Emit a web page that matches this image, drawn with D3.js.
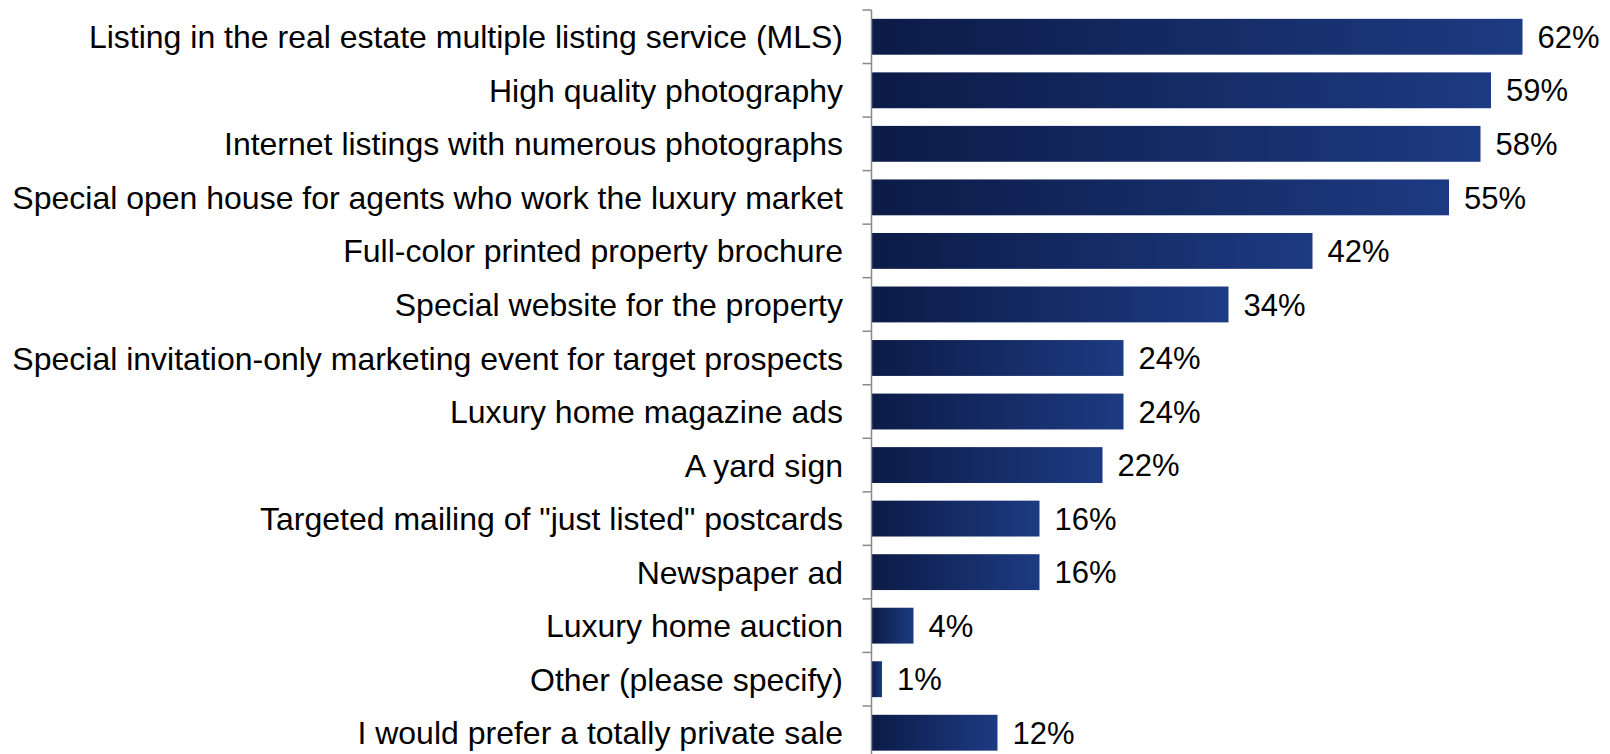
<!DOCTYPE html>
<html>
<head>
<meta charset="utf-8">
<script src="https://cdn.jsdelivr.net/npm/d3@7"></script>
<style>
  html, body { margin: 0; padding: 0; background: #fff; }
  svg { display: block; }
</style>
</head>
<body>
<svg id="chart" width="1610" height="754"></svg>
<script>
// Marketing methods used for luxury listings (share of respondents)
const categories = [
  "Listing in the real estate multiple listing service (MLS)",
  "High quality photography",
  "Internet listings with numerous photographs",
  "Special open house for agents who work the luxury market",
  "Full-color printed property brochure",
  "Special website for the property",
  "Special invitation-only marketing event for target prospects",
  "Luxury home magazine ads",
  "A yard sign",
  "Targeted mailing of \"just listed\" postcards",
  "Newspaper ad",
  "Luxury home auction",
  "Other (please specify)",
  "I would prefer a totally private sale"
];
const values = [62, 59, 58, 55, 42, 34, 24, 24, 22, 16, 16, 4, 1, 12];

const svg = d3.select("#chart");
const axisX = 871.5;
const x = d3.scaleLinear().domain([0, 70]).range([axisX, axisX + 735]);
const y = d3.scaleBand().domain(categories).range([10, 759.5])
  .paddingInner(0.33).paddingOuter(0.165);

// horizontal gradient applied per bar
const defs = svg.append("defs");
const grad = defs.append("linearGradient").attr("id", "barGrad")
  .attr("x1", "0%").attr("x2", "100%").attr("y1", "0%").attr("y2", "0%");
grad.append("stop").attr("offset", "0%").attr("stop-color", "#0c1b47");
grad.append("stop").attr("offset", "100%").attr("stop-color", "#1d3b82");

svg.append("g").selectAll("rect")
  .data(values)
  .join("rect")
  .attr("x", x(0))
  .attr("y", (d, i) => y(categories[i]))
  .attr("width", d => x(d) - x(0))
  .attr("height", y.bandwidth())
  .attr("fill", "url(#barGrad)");

// category axis with ticks at band boundaries
const axisG = svg.append("g").attr("stroke", "#898989").attr("stroke-width", 1.5);
axisG.append("line")
  .attr("x1", axisX).attr("x2", axisX)
  .attr("y1", y.range()[0]).attr("y2", y.range()[1]);
const bounds = d3.range(categories.length + 1).map(i => y.range()[0] + i * y.step());
axisG.selectAll("line.tick")
  .data(bounds)
  .join("line")
  .attr("class", "tick")
  .attr("x1", axisX - 9).attr("x2", axisX)
  .attr("y1", d => d).attr("y2", d => d);

const font = "'Liberation Sans', Arial, sans-serif";

svg.append("g").selectAll("text")
  .data(categories)
  .join("text")
  .attr("x", 843)
  .attr("y", d => y(d) + y.bandwidth() / 2)
  .attr("dy", "0.36em")
  .attr("text-anchor", "end")
  .attr("font-family", font)
  .attr("font-size", 32)
  .attr("fill", "#000")
  .text(d => d);

svg.append("g").selectAll("text")
  .data(values)
  .join("text")
  .attr("x", d => x(d) + 15)
  .attr("y", (d, i) => y(categories[i]) + y.bandwidth() / 2)
  .attr("dy", "0.36em")
  .attr("font-family", font)
  .attr("font-size", 31)
  .attr("fill", "#000")
  .text(d => d + "%");
</script>
</body>
</html>
